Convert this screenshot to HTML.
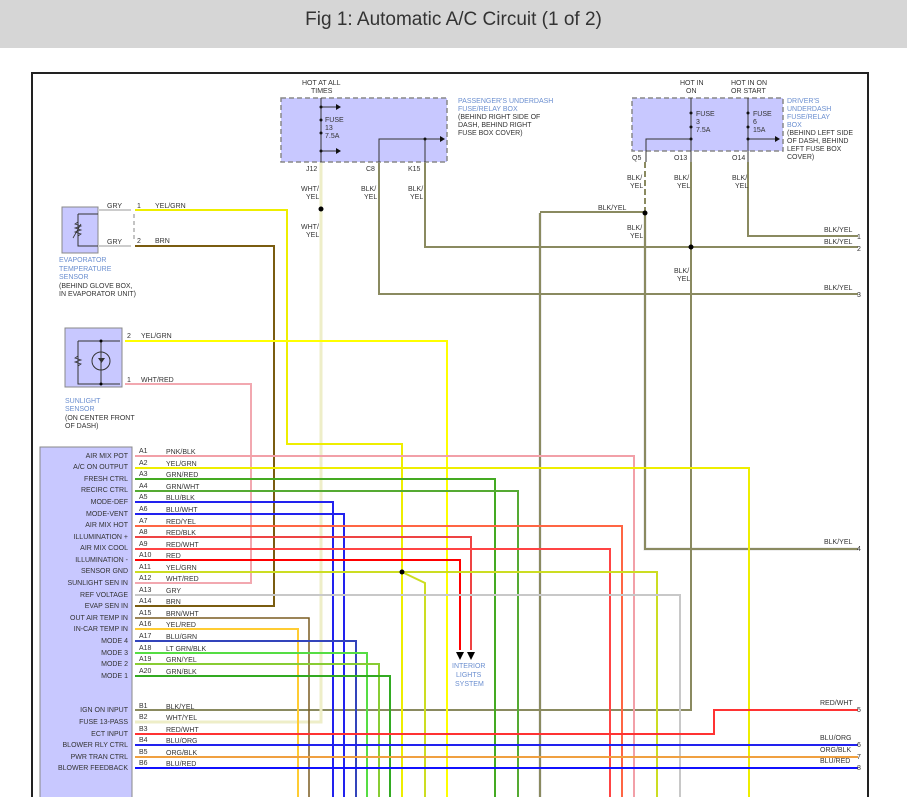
<!DOCTYPE html>
<html><head><meta charset="utf-8"><style>
body{margin:0;width:907px;height:797px;overflow:hidden;background:#fff;font-family:"Liberation Sans",sans-serif}
.bar{position:absolute;left:0;top:0;width:907px;height:48px;background:#d6d6d6;color:#333;font-size:19px;text-align:center;line-height:40px}
svg{position:absolute;left:0;top:0}
text{font-family:"Liberation Sans",sans-serif;font-size:7px;fill:#333}
.b{fill:#6b8fd0}
.w{fill:none;stroke-width:2}
</style></head><body>
<div class="bar">Fig 1: Automatic A/C Circuit (1 of 2)</div>
<svg width="907" height="797" viewBox="0 0 907 797">
<rect x="32" y="73" width="836" height="740" fill="none" stroke="#222" stroke-width="2"/>
<!-- wires -->
<g class="w">
<path stroke="#ddd" stroke-width="3" d="M540 213V797M645 213V549H858"/>
<path stroke="#8a8a60" d="M540 212H645M540 213V797M645 212V549H858"/>
<path stroke="#8a8a60" stroke-dasharray="6,3" d="M645 162V212"/>
<path stroke="#8a8a60" d="M691 162V710H135M748 162V236H858M425 162V247H858M379 162V294H858"/>
<path stroke="#eeeec8" stroke-width="3" d="M321 162V722H135"/>
<path stroke="#eeee00" d="M135 210H287V444H402V797"/>
<path stroke="#7a5c10" d="M135 246H274V606H135"/>
<path stroke="#ffff00" d="M125 341H447V797"/>
<path stroke="#f2a8b0" d="M125 384H251V583H135"/>
<path stroke="#f2a0a8" d="M135 456H634V797"/>
<path stroke="#eeee00" d="M135 468H749V797"/>
<path stroke="#44aa22" d="M135 479H495V797"/>
<path stroke="#55aa33" d="M135 491H518V797"/>
<path stroke="#2222ee" d="M135 502H333V797"/>
<path stroke="#2222ee" d="M135 514H344V797"/>
<path stroke="#ff6644" d="M135 526H622V797"/>
<path stroke="#ee4444" d="M135 537H471V650"/>
<path stroke="#ff4444" d="M135 549H610V797"/>
<path stroke="#ff0000" d="M135 560H460V650"/>
<path stroke="#ccdd22" d="M135 572H402M402 572H657V797M402 572L425 583V797"/>
<path stroke="#c8c8c8" d="M135 595H680V797"/>
<path stroke="#7a5c20" stroke-width="1.5" d="M135 618H309V797"/>
<path stroke="#ffcc33" d="M135 629H298V797"/>
<path stroke="#3344bb" d="M135 641H356V797"/>
<path stroke="#55dd44" d="M135 653H367V797"/>
<path stroke="#88cc33" d="M135 664H379V797"/>
<path stroke="#33aa22" d="M135 676H390V797"/>
<path stroke="#ff3333" d="M135 734H714V710H858"/>
<path stroke="#2222ee" d="M135 745H858"/>
<path stroke="#f0a040" d="M135 757H858"/>
<path stroke="#1111ff" d="M135 768H858"/>
</g>
<!-- fuse boxes -->
<rect x="281" y="98" width="166" height="64" fill="#c8c8ff" stroke="#888" stroke-dasharray="5,3" stroke-width="1.5"/>
<rect x="632" y="98" width="151" height="53" fill="#c8c8ff" stroke="#888" stroke-dasharray="5,3" stroke-width="1.5"/>
<g stroke="#333" stroke-width="1" fill="none">
<path d="M321 98V162M321 107H336M321 151H336M379 162V139H440M425 139V162"/>
<path d="M691 98V162M691 139H646V162M748 98V162M748 139H775"/>
</g>
<g fill="#111"><circle cx="321" cy="107" r="1.5"/><circle cx="321" cy="120" r="1.5"/><circle cx="321" cy="133" r="1.5"/><circle cx="321" cy="151" r="1.5"/><circle cx="425" cy="139" r="1.5"/>
<circle cx="691" cy="113" r="1.5"/><circle cx="691" cy="127" r="1.5"/><circle cx="691" cy="139" r="1.5"/><circle cx="748" cy="113" r="1.5"/><circle cx="748" cy="127" r="1.5"/><circle cx="748" cy="139" r="1.5"/>
<path d="M336 104l5 3-5 3zM336 148l5 3-5 3zM440 136l5 3-5 3zM775 136l5 3-5 3z"/></g>
<text x="302" y="85">HOT AT ALL</text><text x="311" y="93">TIMES</text>
<text x="325" y="122">FUSE</text><text x="325" y="130">13</text><text x="325" y="138">7.5A</text>
<text class="b" x="458" y="103">PASSENGER'S UNDERDASH</text><text class="b" x="458" y="111">FUSE/RELAY BOX</text>
<text x="458" y="119">(BEHIND RIGHT SIDE OF</text><text x="458" y="127">DASH, BEHIND RIGHT</text><text x="458" y="135">FUSE BOX COVER)</text>
<text x="306" y="171">J12</text><text x="366" y="171">C8</text><text x="408" y="171">K15</text>
<text x="301" y="191">WHT/</text><text x="306" y="199">YEL</text><text x="301" y="229">WHT/</text><text x="306" y="237">YEL</text>
<text x="361" y="191">BLK/</text><text x="364" y="199">YEL</text><text x="408" y="191">BLK/</text><text x="410" y="199">YEL</text>
<text x="680" y="85">HOT IN</text><text x="686" y="93">ON</text><text x="731" y="85">HOT IN ON</text><text x="731" y="93">OR START</text>
<text x="696" y="116">FUSE</text><text x="696" y="124">3</text><text x="696" y="132">7.5A</text>
<text x="753" y="116">FUSE</text><text x="753" y="124">6</text><text x="753" y="132">15A</text>
<text class="b" x="787" y="103">DRIVER'S</text><text class="b" x="787" y="111">UNDERDASH</text><text class="b" x="787" y="119">FUSE/RELAY</text><text class="b" x="787" y="127">BOX</text>
<text x="787" y="135">(BEHIND LEFT SIDE</text><text x="787" y="143">OF DASH, BEHIND</text><text x="787" y="151">LEFT FUSE BOX</text><text x="787" y="159">COVER)</text>
<text x="632" y="160">Q5</text><text x="674" y="160">O13</text><text x="732" y="160">O14</text>
<text x="627" y="180">BLK/</text><text x="630" y="188">YEL</text><text x="674" y="180">BLK/</text><text x="677" y="188">YEL</text><text x="732" y="180">BLK/</text><text x="735" y="188">YEL</text>
<text x="598" y="210">BLK/YEL</text><text x="627" y="230">BLK/</text><text x="630" y="238">YEL</text><text x="674" y="273">BLK/</text><text x="677" y="281">YEL</text>
<text x="824" y="232">BLK/YEL</text><text x="857" y="239">1</text><text x="824" y="244">BLK/YEL</text><text x="857" y="251">2</text><text x="824" y="290">BLK/YEL</text><text x="857" y="297">3</text>
<text x="824" y="544">BLK/YEL</text><text x="857" y="551">4</text><text x="820" y="705">RED/WHT</text><text x="857" y="712">5</text>
<text x="820" y="740">BLU/ORG</text><text x="857" y="747">6</text><text x="820" y="752">ORG/BLK</text><text x="857" y="759">7</text><text x="820" y="763">BLU/RED</text><text x="857" y="770">8</text>
<!-- sensors -->
<rect x="62" y="207" width="36" height="46" fill="#c8c8ff" stroke="#888"/>
<path d="M78 214H98M78 214V246H98" stroke="#333" fill="none"/>
<path d="M78 222l-3 2 6 2-6 2 6 2-6 2 6 2-3 2M73 238l8-14" stroke="#333" fill="none" stroke-width="0.8"/>
<rect x="65" y="328" width="57" height="59" fill="#c8c8ff" stroke="#888"/>
<path d="M78 341H120M78 341V384H120M101 341V384" stroke="#333" fill="none"/>
<circle cx="101" cy="361" r="9" fill="none" stroke="#333"/>
<path d="M78 356l-3 2 6 2-6 2 6 2-3 2" stroke="#333" fill="none" stroke-width="0.8"/>
<path d="M98 358h7l-3.5 5z" fill="#333"/>
<circle cx="101" cy="341" r="1.5"/><circle cx="101" cy="384" r="1.5"/>
<path d="M98 210H131M98 246H131" stroke="#ccc" stroke-width="2"/>
<path d="M134 214V242" stroke="#888" stroke-dasharray="4,3"/>
<text x="107" y="208">GRY</text><text x="107" y="244">GRY</text><text x="137" y="208">1</text><text x="137" y="243">2</text>
<text x="155" y="208">YEL/GRN</text><text x="155" y="243">BRN</text>
<text class="b" x="59" y="262">EVAPORATOR</text><text class="b" x="59" y="271">TEMPERATURE</text><text class="b" x="59" y="279">SENSOR</text>
<text x="59" y="288">(BEHIND GLOVE BOX,</text><text x="59" y="296">IN EVAPORATOR UNIT)</text>
<text x="127" y="338">2</text><text x="141" y="338">YEL/GRN</text><text x="127" y="382">1</text><text x="141" y="382">WHT/RED</text>
<text class="b" x="65" y="403">SUNLIGHT</text><text class="b" x="65" y="411">SENSOR</text><text x="65" y="420">(ON CENTER FRONT</text><text x="65" y="428">OF DASH)</text>
<!-- module -->
<rect x="40" y="447" width="92" height="360" fill="#c8c8ff" stroke="#888"/>
<g fill="#000"><circle cx="321" cy="209" r="2.5"/><circle cx="645" cy="213" r="2.5"/><circle cx="691" cy="247" r="2.5"/><circle cx="402" cy="572" r="2.5"/>
<path d="M456 652h8l-4 8zM467 652h8l-4 8z"/></g>
<text class="b" x="452" y="668">INTERIOR</text><text class="b" x="456" y="677">LIGHTS</text><text class="b" x="455" y="686">SYSTEM</text>
<g text-anchor="end">
<text x="128" y="458">AIR MIX POT</text><text x="128" y="469">A/C ON OUTPUT</text><text x="128" y="481">FRESH CTRL</text><text x="128" y="492">RECIRC CTRL</text>
<text x="128" y="504">MODE-DEF</text><text x="128" y="516">MODE-VENT</text><text x="128" y="527">AIR MIX HOT</text><text x="128" y="539">ILLUMINATION +</text>
<text x="128" y="550">AIR MIX COOL</text><text x="128" y="562">ILLUMINATION -</text><text x="128" y="573">SENSOR GND</text><text x="128" y="585">SUNLIGHT SEN IN</text>
<text x="128" y="597">REF VOLTAGE</text><text x="128" y="608">EVAP SEN IN</text><text x="128" y="620">OUT AIR TEMP IN</text><text x="128" y="631">IN-CAR TEMP IN</text>
<text x="128" y="643">MODE 4</text><text x="128" y="655">MODE 3</text><text x="128" y="666">MODE 2</text><text x="128" y="678">MODE 1</text>
<text x="128" y="712">IGN ON INPUT</text><text x="128" y="724">FUSE 13-PASS</text><text x="128" y="736">ECT INPUT</text><text x="128" y="747">BLOWER RLY CTRL</text>
<text x="128" y="759">PWR TRAN CTRL</text><text x="128" y="770">BLOWER FEEDBACK</text>
</g>
<g>
<text x="139" y="453">A1</text><text x="166" y="454">PNK/BLK</text><text x="139" y="465">A2</text><text x="166" y="466">YEL/GRN</text>
<text x="139" y="476">A3</text><text x="166" y="477">GRN/RED</text><text x="139" y="488">A4</text><text x="166" y="489">GRN/WHT</text>
<text x="139" y="499">A5</text><text x="166" y="500">BLU/BLK</text><text x="139" y="511">A6</text><text x="166" y="512">BLU/WHT</text>
<text x="139" y="523">A7</text><text x="166" y="524">RED/YEL</text><text x="139" y="534">A8</text><text x="166" y="535">RED/BLK</text>
<text x="139" y="546">A9</text><text x="166" y="547">RED/WHT</text><text x="139" y="557">A10</text><text x="166" y="558">RED</text>
<text x="139" y="569">A11</text><text x="166" y="570">YEL/GRN</text><text x="139" y="580">A12</text><text x="166" y="581">WHT/RED</text>
<text x="139" y="592">A13</text><text x="166" y="593">GRY</text><text x="139" y="603">A14</text><text x="166" y="604">BRN</text>
<text x="139" y="615">A15</text><text x="166" y="616">BRN/WHT</text><text x="139" y="626">A16</text><text x="166" y="627">YEL/RED</text>
<text x="139" y="638">A17</text><text x="166" y="639">BLU/GRN</text><text x="139" y="650">A18</text><text x="166" y="651">LT GRN/BLK</text>
<text x="139" y="661">A19</text><text x="166" y="662">GRN/YEL</text><text x="139" y="673">A20</text><text x="166" y="674">GRN/BLK</text>
<text x="139" y="708">B1</text><text x="166" y="709">BLK/YEL</text><text x="139" y="719">B2</text><text x="166" y="720">WHT/YEL</text>
<text x="139" y="731">B3</text><text x="166" y="732">RED/WHT</text><text x="139" y="742">B4</text><text x="166" y="743">BLU/ORG</text>
<text x="139" y="754">B5</text><text x="166" y="755">ORG/BLK</text><text x="139" y="765">B6</text><text x="166" y="766">BLU/RED</text>
</g>
</svg>
</body></html>
